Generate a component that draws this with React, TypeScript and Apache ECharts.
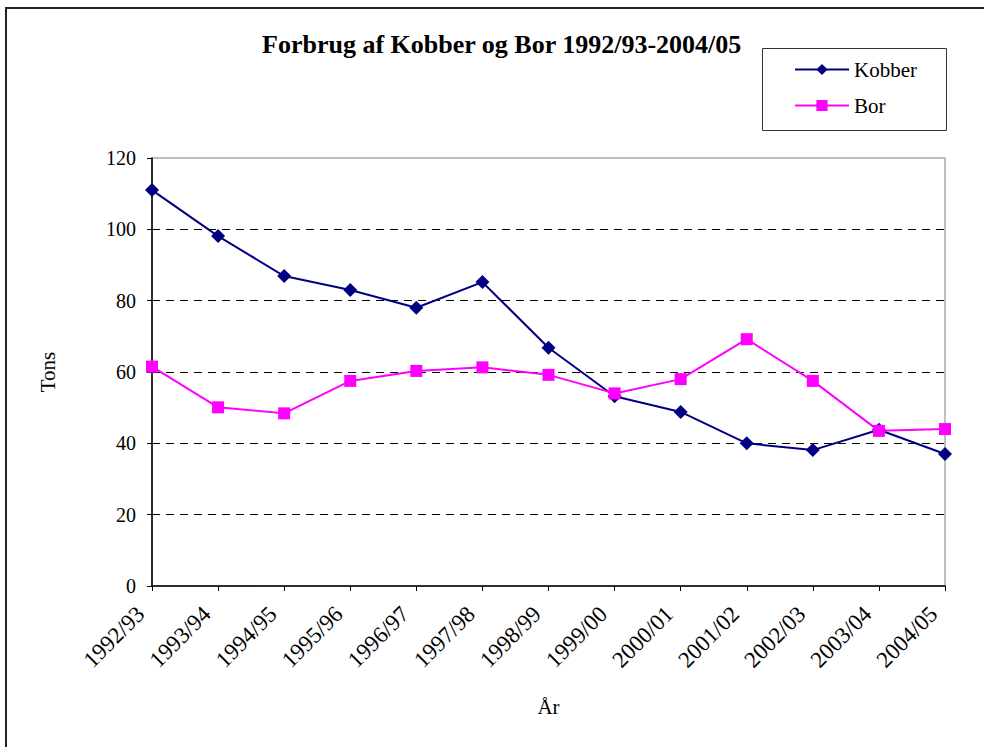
import React, { useEffect, useRef } from "react";
import * as echarts from "echarts";

const years = [
  "1992/93", "1993/94", "1994/95", "1995/96", "1996/97", "1997/98", "1998/99",
  "1999/00", "2000/01", "2001/02", "2002/03", "2003/04", "2004/05",
];
const kobber = [111, 98.1, 86.9, 83, 78, 85.2, 66.8, 53.2, 48.8, 40, 38.1, 43.8, 37];
const bor = [61.5, 50.1, 48.4, 57.5, 60.3, 61.3, 59.2, 54, 58, 69.2, 57.5, 43.5, 44];
const titleText = "Forbrug af Kobber og Bor 1992/93-2004/05";
const yTitle = "Tons";
const xTitle = "År";

const FONT = "Liberation Serif";

export default function App() {
  const ref = useRef<HTMLDivElement>(null);
  useEffect(() => {
    if (!ref.current) return;
    const chart = echarts.init(ref.current, null, { renderer: "svg" });
    chart.setOption({
      animation: false,
      backgroundColor: "#fff",
      textStyle: { fontFamily: FONT },
      title: {
        text: titleText,
        left: 262,
        top: 31,
        padding: 0,
        textStyle: { fontFamily: FONT, fontSize: 26, fontWeight: "bold", color: "#000" },
      },
      graphic: [
        {
          type: "rect",
          shape: { x: 6, y: 8, width: 1000, height: 800 },
          style: { fill: "none", stroke: "#222", lineWidth: 2 },
          silent: true,
        },
        {
          type: "rect",
          shape: { x: 762.5, y: 48.5, width: 184, height: 82 },
          style: { fill: "#fff", stroke: "#333", lineWidth: 1 },
          silent: true,
          z: -1,
        },
      ],
      legend: [
        {
          data: ["Kobber"],
          left: 794,
          top: 59,
          padding: 0,
          itemWidth: 54,
          itemHeight: 14,
          textStyle: { fontFamily: FONT, fontSize: 21, color: "#000" },
        },
        {
          data: ["Bor"],
          left: 794,
          top: 95,
          padding: 0,
          itemWidth: 54,
          itemHeight: 14,
          textStyle: { fontFamily: FONT, fontSize: 21, color: "#000" },
        },
      ],
      grid: {
        left: 152,
        right: 39,
        top: 158,
        bottom: 161,
        show: true,
        borderColor: "#808080",
        borderWidth: 1,
        backgroundColor: "transparent",
      },
      xAxis: {
        type: "category",
        data: years,
        boundaryGap: false,
        name: xTitle,
        nameLocation: "middle",
        nameGap: 110,
        nameTextStyle: { fontFamily: FONT, fontSize: 21, color: "#000" },
        axisLine: { show: true, lineStyle: { color: "#000", width: 1.5 } },
        axisTick: { show: true, length: 5, lineStyle: { color: "#000" } },
        axisLabel: {
          rotate: 45,
          margin: 13,
          padding: [0, 16, 0, 0],
          fontFamily: FONT,
          fontSize: 23,
          color: "#000",
          interval: 0,
        },
        splitLine: { show: false },
      },
      yAxis: {
        type: "value",
        min: 0,
        max: 120,
        interval: 20,
        name: yTitle,
        nameLocation: "middle",
        nameGap: 94,
        nameRotate: 90,
        nameTextStyle: { fontFamily: FONT, fontSize: 21, color: "#000" },
        axisLine: { show: true, lineStyle: { color: "#000", width: 1.5 } },
        axisTick: { show: true, length: 5, lineStyle: { color: "#000" } },
        axisLabel: { margin: 16, fontFamily: FONT, fontSize: 20, color: "#000" },
        splitLine: {
          show: true,
          showMinLine: false,
          showMaxLine: false,
          lineStyle: { color: "#000", type: [8, 6], width: 1 },
        },
      },
      series: [
        {
          name: "Kobber",
          type: "line",
          data: kobber,
          symbol: "diamond",
          symbolSize: 14,
          color: "#000080",
          lineStyle: { color: "#000080", width: 2 },
          itemStyle: { color: "#000080" },
          z: 3,
        },
        {
          name: "Bor",
          type: "line",
          data: bor,
          symbol: "rect",
          symbolSize: 12,
          color: "#FF00FF",
          lineStyle: { color: "#FF00FF", width: 2 },
          itemStyle: { color: "#FF00FF" },
          z: 4,
        },
      ],
    });
    return () => chart.dispose();
  }, []);
  return (
    <div
      ref={ref}
      style={{ position: "absolute", left: 0, top: 0, width: 984, height: 747 }}
    />
  );
}
